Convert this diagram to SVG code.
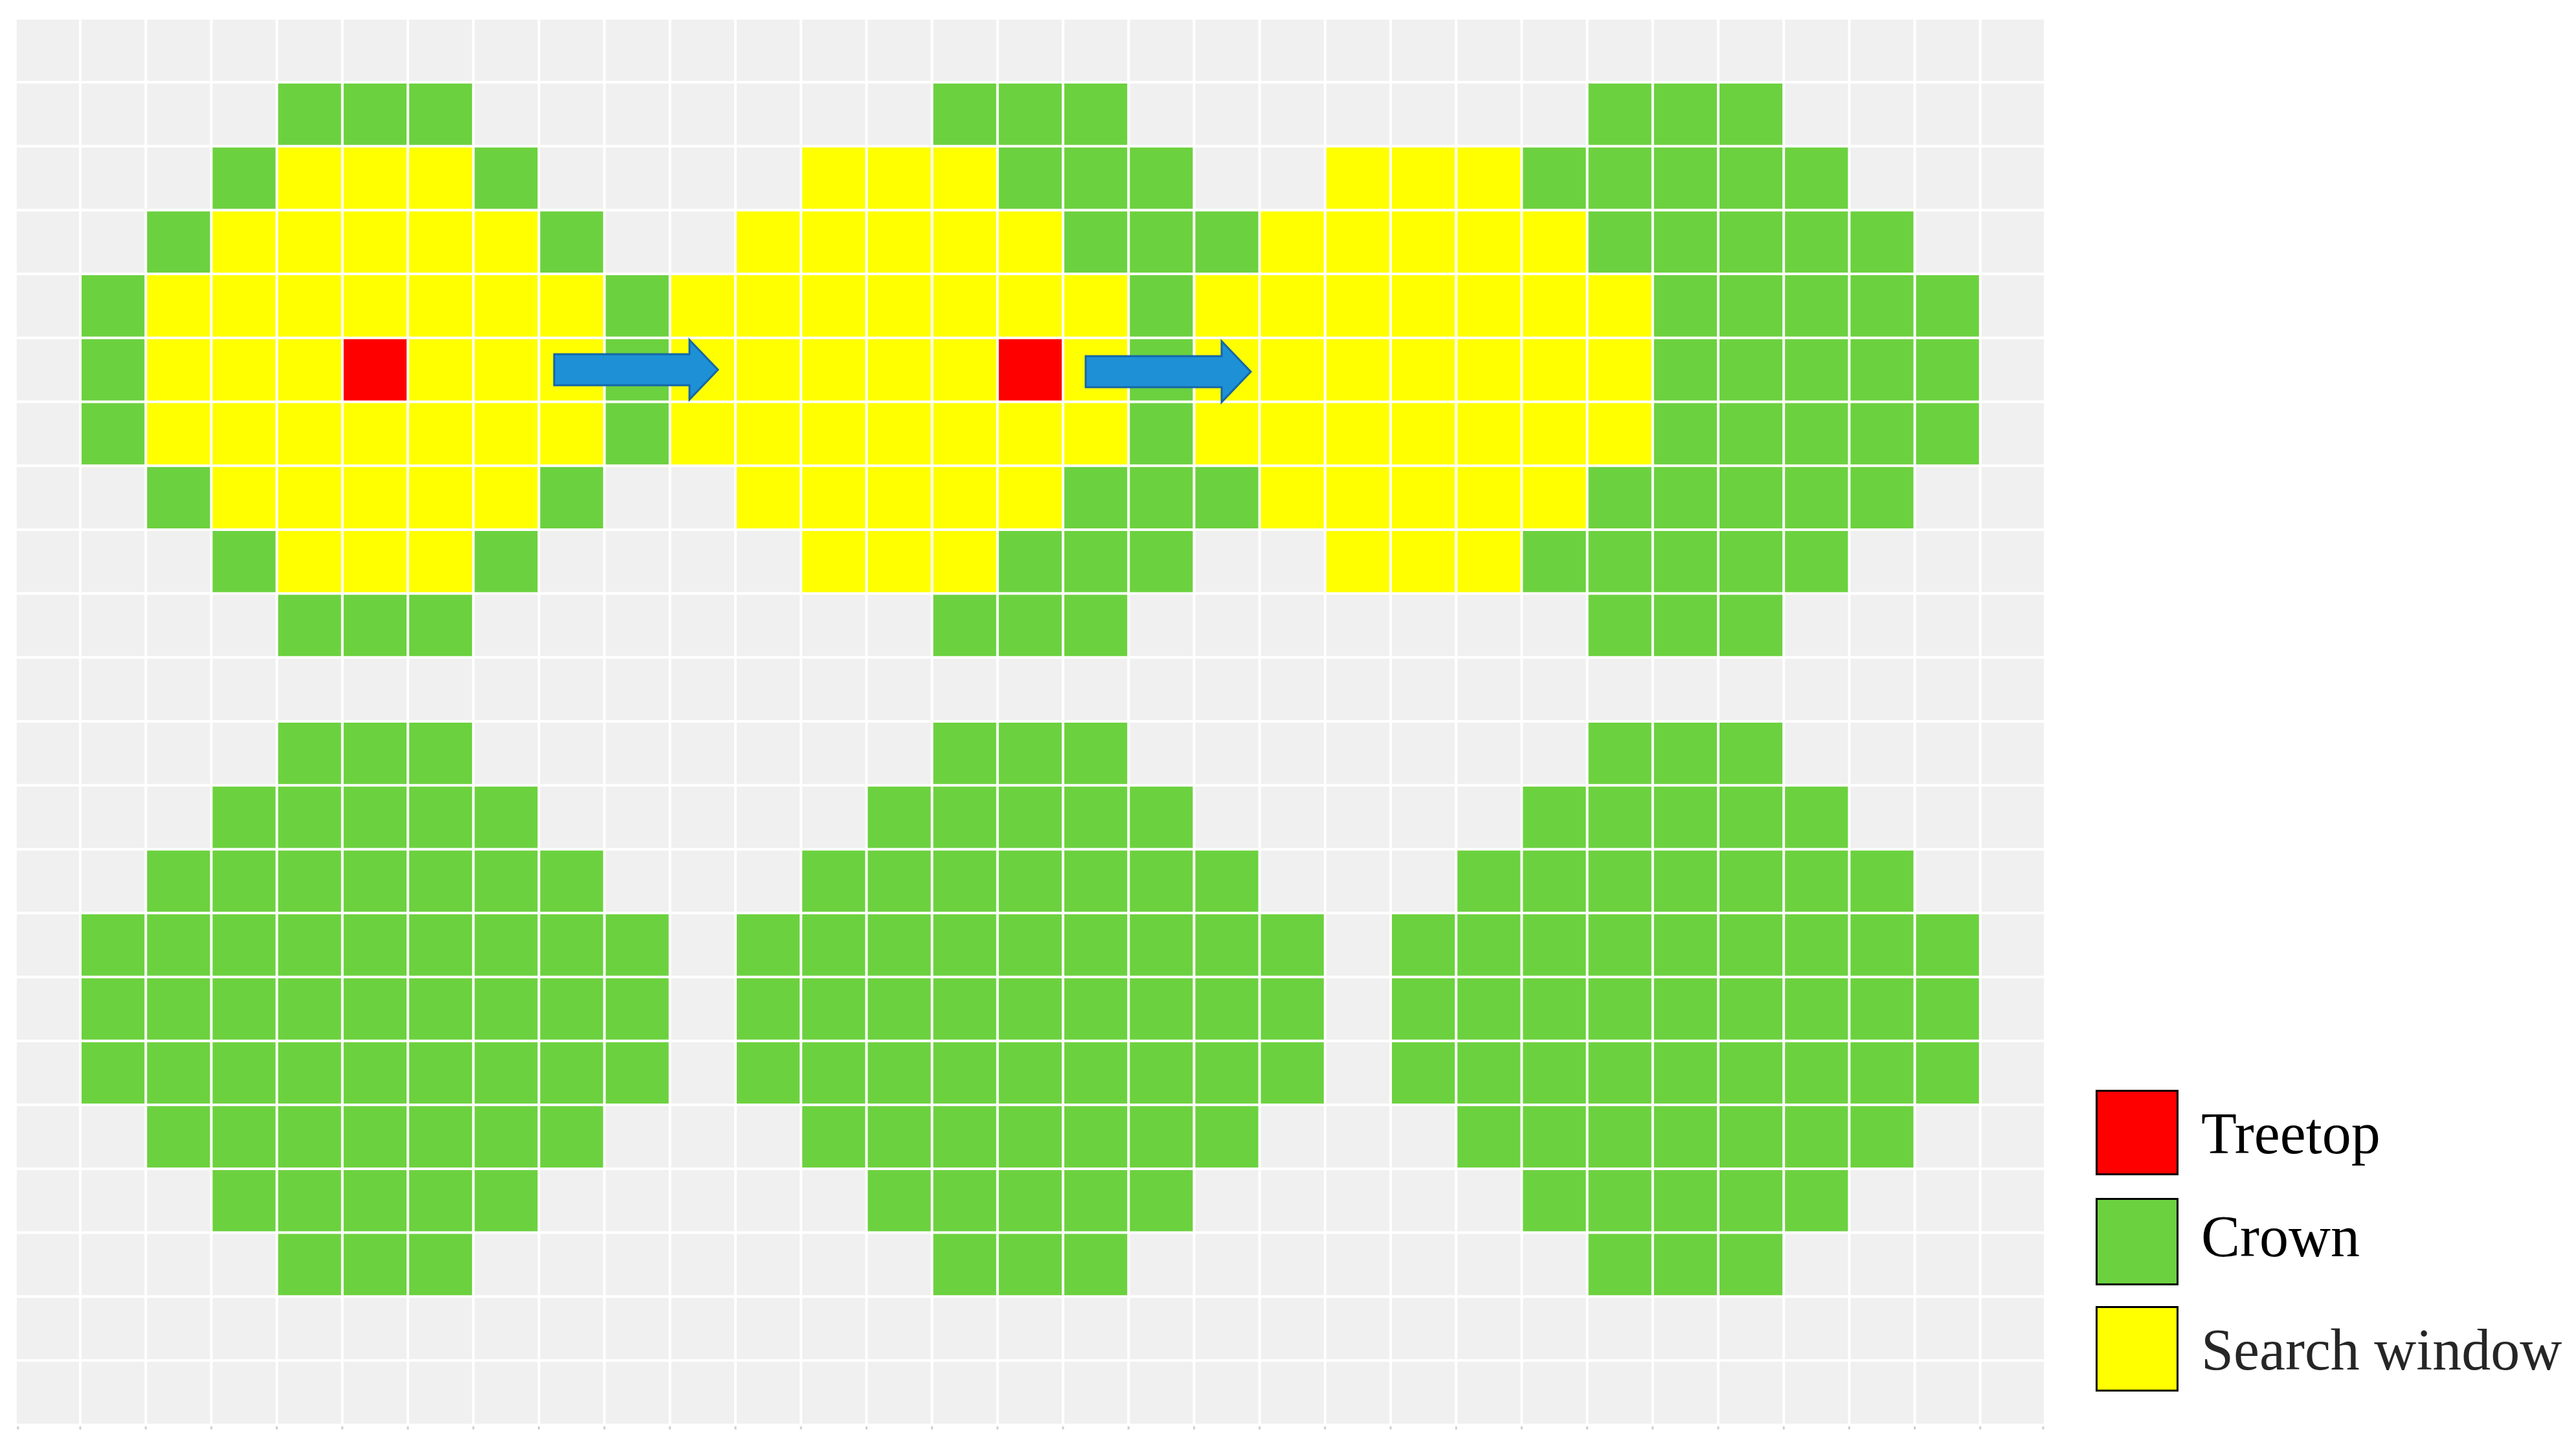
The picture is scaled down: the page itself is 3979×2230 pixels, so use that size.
<svg xmlns="http://www.w3.org/2000/svg" xmlns:xlink="http://www.w3.org/1999/xlink" width="3979" height="2230" viewBox="0 0 3979 2230">
<style>
.crown{fill:#6cd13f}
.win{fill:#ffff00}
.top{fill:#ff0000}
.grid{stroke:#ffffff;stroke-width:4;fill:none}
.tick{stroke:#cfcfcf;stroke-width:3;fill:none}
.arrow{fill:#1e90d6;stroke:#1566a8;stroke-width:3;stroke-linejoin:miter}
.lbox{stroke:#000;stroke-width:3}
.ltxt{font-family:"Liberation Serif","Times New Roman",serif;font-size:90px;fill:#000}
</style>
<defs>
<path id="crownShape" d="M-1,0H2V1H3V2H4V3H5V6H4V7H3V8H2V9H-1V8H-2V7H-3V6H-4V3H-3V2H-2V1H-1Z"/>
<path id="winShape" d="M-1,0H2V1H3V2H4V5H3V6H2V7H-1V6H-2V5H-3V2H-2V1H-1Z"/>
</defs>
<rect width="3979" height="2230" fill="#ffffff"/>
<g id="grid-cells" transform="translate(22.8,28.3) scale(101.2,98.7)">
<rect id="background" x="0.03" y="0.02" width="30.94" height="21.97" fill="#f0f0f0"/>
<g id="tree-1" class="crown"><use xlink:href="#crownShape" href="#crownShape" x="5" y="1"/></g>
<g id="tree-2" class="crown"><use xlink:href="#crownShape" href="#crownShape" x="15" y="1"/></g>
<g id="tree-3" class="crown"><use xlink:href="#crownShape" href="#crownShape" x="25" y="1"/></g>
<g id="tree-4" class="crown"><use xlink:href="#crownShape" href="#crownShape" x="5" y="11"/></g>
<g id="tree-5" class="crown"><use xlink:href="#crownShape" href="#crownShape" x="15" y="11"/></g>
<g id="tree-6" class="crown"><use xlink:href="#crownShape" href="#crownShape" x="25" y="11"/></g>
<g id="window-1" class="win"><use xlink:href="#winShape" href="#winShape" x="5" y="2"/></g>
<g id="window-2" class="win"><use xlink:href="#winShape" href="#winShape" x="13" y="2"/></g>
<g id="window-3" class="win"><use xlink:href="#winShape" href="#winShape" x="21" y="2"/></g>
<g id="treetop-1" class="top"><rect x="5" y="5" width="1" height="1"/></g>
<g id="treetop-2" class="top"><rect x="15" y="5" width="1" height="1"/></g>
<path id="grid-lines" class="grid" vector-effect="non-scaling-stroke" d="M1,0V22M2,0V22M3,0V22M4,0V22M5,0V22M6,0V22M7,0V22M8,0V22M9,0V22M10,0V22M11,0V22M12,0V22M13,0V22M14,0V22M15,0V22M16,0V22M17,0V22M18,0V22M19,0V22M20,0V22M21,0V22M22,0V22M23,0V22M24,0V22M25,0V22M26,0V22M27,0V22M28,0V22M29,0V22M30,0V22M0,1H31M0,2H31M0,3H31M0,4H31M0,5H31M0,6H31M0,7H31M0,8H31M0,9H31M0,10H31M0,11H31M0,12H31M0,13H31M0,14H31M0,15H31M0,16H31M0,17H31M0,18H31M0,19H31M0,20H31M0,21H31"/>
<path id="axis-ticks" class="tick" vector-effect="non-scaling-stroke" d="M0.05,22.03V22.08M1,22.03V22.08M2,22.03V22.08M3,22.03V22.08M4,22.03V22.08M5,22.03V22.08M6,22.03V22.08M7,22.03V22.08M8,22.03V22.08M9,22.03V22.08M10,22.03V22.08M11,22.03V22.08M12,22.03V22.08M13,22.03V22.08M14,22.03V22.08M15,22.03V22.08M16,22.03V22.08M17,22.03V22.08M18,22.03V22.08M19,22.03V22.08M20,22.03V22.08M21,22.03V22.08M22,22.03V22.08M23,22.03V22.08M24,22.03V22.08M25,22.03V22.08M26,22.03V22.08M27,22.03V22.08M28,22.03V22.08M29,22.03V22.08M30,22.03V22.08M30.96,22.03V22.08"/>
</g>
<g id="connectors">
<path id="arrow-1" class="arrow" d="M856,547H1065V525L1109,571L1065,617V595H856Z"/>
<path id="arrow-2" class="arrow" d="M1677,550H1887V527L1932,574L1887,621V598H1677Z"/>
</g>
<g id="legend">
<g id="legend-treetop"><rect class="lbox" x="3238.5" y="1684.5" width="125" height="129" fill="#ff0000"/><text class="ltxt" x="3400" y="1781">Treetop</text></g>
<g id="legend-crown"><rect class="lbox" x="3238.5" y="1851.5" width="125" height="132" fill="#6cd13f"/><text class="ltxt" x="3400" y="1940">Crown</text></g>
<g id="legend-window"><rect class="lbox" x="3238.5" y="2018.5" width="125" height="129" fill="#ffff00"/><text class="ltxt" x="3400" y="2115" style="fill:#262626">Search window</text></g>
</g>
</svg>
